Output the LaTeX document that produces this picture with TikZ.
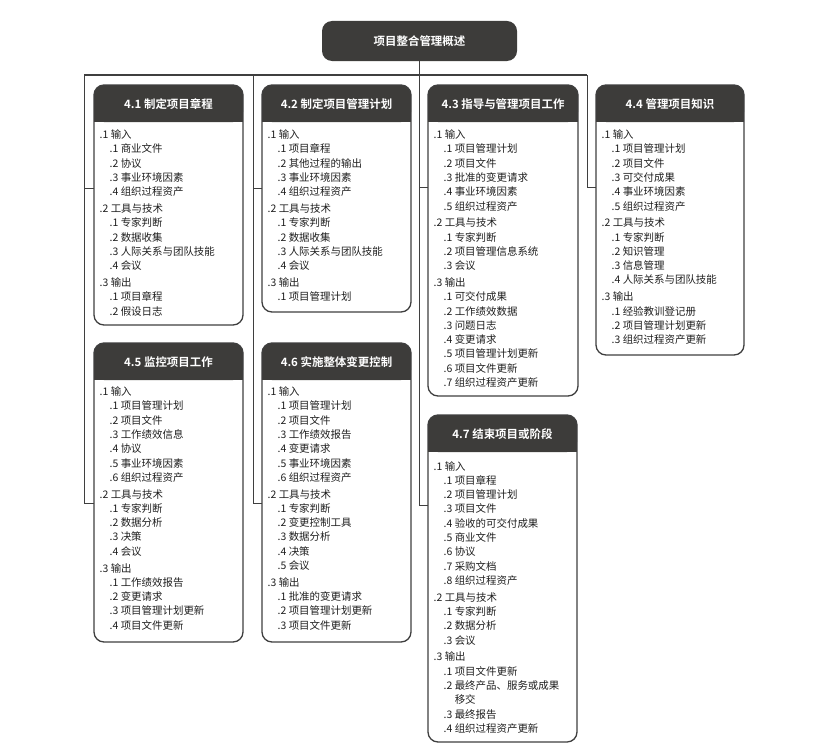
\documentclass[tikz,border=0pt]{standalone}
\usepackage{fontspec}
\setmainfont{Noto Sans CJK SC}[BoldFont={Noto Sans CJK SC Bold}]
\usepackage{tikz}
\usetikzlibrary{positioning, backgrounds}

\definecolor{hdrgray}{HTML}{3D3C3A}
\definecolor{linegray}{HTML}{3F3F3F}
\definecolor{txtgray}{HTML}{1E1E1E}

\newcommand{\itm}{\hspace*{10bp}}
\newcommand{\cardhead}[1]{%
  \fill[hdrgray, rounded corners = 10bp] (#1.north west) rectangle ([yshift=-37bp]#1.north east);
  \fill[hdrgray] ([yshift=-20bp]#1.north west) rectangle ([yshift=-37bp]#1.north east);}

\begin{document}
\begin{tikzpicture}
  [
    x = 1bp, y = -1bp,
    card/.style = {draw = linegray, line width = 1.3bp, rounded corners = 10bp,
                   anchor = north west, outer sep = 0pt, minimum width = 149bp},
    head/.style = {text = white, font = \bfseries\fontsize{11.5}{13}\selectfont},
    body/.style = {anchor = north west, align = left, inner sep = 0pt, text = txtgray,
                   font = \fontsize{10.5}{14.35}\selectfont},
    link/.style = {draw = linegray, line width = 1bp},
    root/.style = {fill = hdrgray, rounded corners = 10bp, minimum width = 195bp,
                   minimum height = 40bp, text = white,
                   font = \bfseries\fontsize{11.5}{13}\selectfont}
  ]
  \useasboundingbox (0,0) rectangle (822,754);

  \node[root] (root) at (419.5,41) {项目整合管理概述};

  % cards
  \node[card, minimum height = 240bp] (c41) at (94,85) {};
  \node[card, minimum height = 227bp] (c42) at (262,85) {};
  \node[card, minimum height = 311bp, minimum width = 150bp] (c43) at (428,85) {};
  \node[card, minimum height = 270bp, minimum width = 148bp] (c44) at (596,85) {};
  \node[card, minimum height = 299bp] (c45) at (94,343) {};
  \node[card, minimum height = 299bp] (c46) at (262,343) {};
  \node[card, minimum height = 327bp] (c47) at (428,415) {};

  \begin{scope}[on background layer]
    \cardhead{c41} \cardhead{c42} \cardhead{c43} \cardhead{c44}
    \cardhead{c45} \cardhead{c46} \cardhead{c47}
  \end{scope}

  \node[head] (h41) at ([yshift=-19.5bp]c41.north) {4.1 制定项目章程};
  \node[head] (h42) at ([yshift=-19.5bp]c42.north) {4.2 制定项目管理计划};
  \node[head] (h43) at ([yshift=-19.5bp]c43.north) {4.3 指导与管理项目工作};
  \node[head] (h44) at ([yshift=-19.5bp]c44.north) {4.4 管理项目知识};
  \node[head] (h45) at ([yshift=-19.5bp]c45.north) {4.5 监控项目工作};
  \node[head] (h46) at ([yshift=-19.5bp]c46.north) {4.6 实施整体变更控制};
  \node[head] (h47) at ([yshift=-19.5bp]c47.north) {4.7 结束项目或阶段};

  \node[body] (b41) at ([xshift=5.5bp, yshift=-44.5bp]c41.north west) {%
    .1 输入\\ \itm.1 商业文件\\ \itm.2 协议\\ \itm.3 事业环境因素\\ \itm.4 组织过程资产\\[2.5bp]
    .2 工具与技术\\ \itm.1 专家判断\\ \itm.2 数据收集\\ \itm.3 人际关系与团队技能\\ \itm.4 会议\\[2.5bp]
    .3 输出\\ \itm.1 项目章程\\ \itm.2 假设日志};
  \node[body] (b42) at ([xshift=5.5bp, yshift=-44.5bp]c42.north west) {%
    .1 输入\\ \itm.1 项目章程\\ \itm.2 其他过程的输出\\ \itm.3 事业环境因素\\ \itm.4 组织过程资产\\[2.5bp]
    .2 工具与技术\\ \itm.1 专家判断\\ \itm.2 数据收集\\ \itm.3 人际关系与团队技能\\ \itm.4 会议\\[2.5bp]
    .3 输出\\ \itm.1 项目管理计划};
  \node[body] (b43) at ([xshift=5.5bp, yshift=-44.5bp]c43.north west) {%
    .1 输入\\ \itm.1 项目管理计划\\ \itm.2 项目文件\\ \itm.3 批准的变更请求\\ \itm.4 事业环境因素\\ \itm.5 组织过程资产\\[2.5bp]
    .2 工具与技术\\ \itm.1 专家判断\\ \itm.2 项目管理信息系统\\ \itm.3 会议\\[2.5bp]
    .3 输出\\ \itm.1 可交付成果\\ \itm.2 工作绩效数据\\ \itm.3 问题日志\\ \itm.4 变更请求\\
    \itm.5 项目管理计划更新\\ \itm.6 项目文件更新\\ \itm.7 组织过程资产更新};
  \node[body] (b44) at ([xshift=5.5bp, yshift=-44.5bp]c44.north west) {%
    .1 输入\\ \itm.1 项目管理计划\\ \itm.2 项目文件\\ \itm.3 可交付成果\\ \itm.4 事业环境因素\\ \itm.5 组织过程资产\\[2.5bp]
    .2 工具与技术\\ \itm.1 专家判断\\ \itm.2 知识管理\\ \itm.3 信息管理\\ \itm.4 人际关系与团队技能\\[2.5bp]
    .3 输出\\ \itm.1 经验教训登记册\\ \itm.2 项目管理计划更新\\ \itm.3 组织过程资产更新};
  \node[body] (b45) at ([xshift=5.5bp, yshift=-43.5bp]c45.north west) {%
    .1 输入\\ \itm.1 项目管理计划\\ \itm.2 项目文件\\ \itm.3 工作绩效信息\\ \itm.4 协议\\ \itm.5 事业环境因素\\ \itm.6 组织过程资产\\[2.5bp]
    .2 工具与技术\\ \itm.1 专家判断\\ \itm.2 数据分析\\ \itm.3 决策\\ \itm.4 会议\\[2.5bp]
    .3 输出\\ \itm.1 工作绩效报告\\ \itm.2 变更请求\\ \itm.3 项目管理计划更新\\ \itm.4 项目文件更新};
  \node[body] (b46) at ([xshift=5.5bp, yshift=-43.5bp]c46.north west) {%
    .1 输入\\ \itm.1 项目管理计划\\ \itm.2 项目文件\\ \itm.3 工作绩效报告\\ \itm.4 变更请求\\ \itm.5 事业环境因素\\ \itm.6 组织过程资产\\[2.5bp]
    .2 工具与技术\\ \itm.1 专家判断\\ \itm.2 变更控制工具\\ \itm.3 数据分析\\ \itm.4 决策\\ \itm.5 会议\\[2.5bp]
    .3 输出\\ \itm.1 批准的变更请求\\ \itm.2 项目管理计划更新\\ \itm.3 项目文件更新};
  \node[body] (b47) at ([xshift=5.5bp, yshift=-46bp]c47.north west) {%
    .1 输入\\ \itm.1 项目章程\\ \itm.2 项目管理计划\\ \itm.3 项目文件\\ \itm.4 验收的可交付成果\\
    \itm.5 商业文件\\ \itm.6 协议\\ \itm.7 采购文档\\ \itm.8 组织过程资产\\[2.5bp]
    .2 工具与技术\\ \itm.1 专家判断\\ \itm.2 数据分析\\ \itm.3 会议\\[2.5bp]
    .3 输出\\ \itm.1 项目文件更新\\ \itm.2 最终产品、服务或成果\\ \itm\phantom{.2 }移交\\
    \itm.3 最终报告\\ \itm.4 组织过程资产更新};

  % connectors
  \coordinate (busL) at (84,75);
  \coordinate (busM) at (253,75);
  \coordinate (busR) at (587,75);
  \draw[link] (busL) -- (busR);
  \draw[link] (root.south) |- (c47.west |- 0,505);
  \draw[link] (root.south |- 0,187) -- (c43.west |- 0,187);
  \draw[link] (busL) |- (c45.west |- 0,503);
  \draw[link] (busL |- 0,188) -- (c41.west |- 0,188);
  \draw[link] (busM) |- (c46.west |- 0,503);
  \draw[link] (busM |- 0,188) -- (c42.west |- 0,188);
  \draw[link] (busR) |- (c44.west |- 0,187);
\end{tikzpicture}
\end{document}
